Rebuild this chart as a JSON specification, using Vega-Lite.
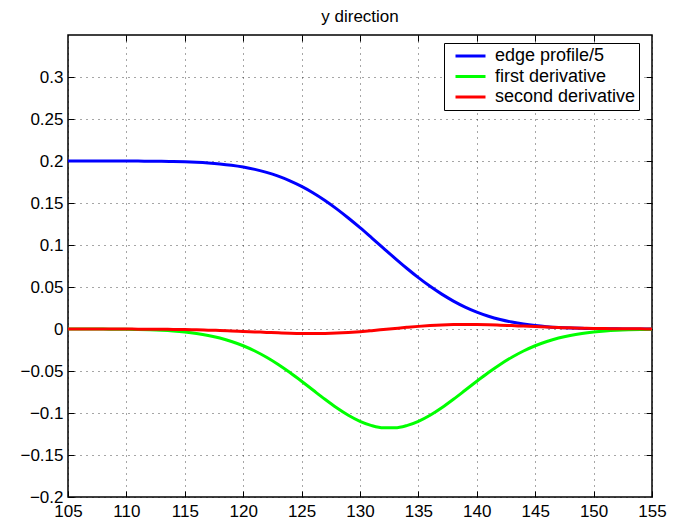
{
  "$schema": "https://vega.github.io/schema/vega-lite/v6.json",
  "autosize": {"type": "none"},
  "width": 584,
  "height": 462,
  "padding": {"left": 68, "top": 35, "right": 31, "bottom": 27},
  "background": "white",
  "title": {"text": "y direction", "fontSize": 17, "fontWeight": "normal", "font": "Liberation Sans", "color": "#000", "offset": 9},
  "config": {
    "view": {"stroke": "#000", "strokeWidth": 1.5},
    "font": "Liberation Sans",
    "axis": {
      "domain": false,
      "tickColor": "#000",
      "tickSize": -6,
      "labelFontSize": 17,
      "labelColor": "#000",
      "labelFont": "Liberation Sans",
      "gridColor": "#000",
      "gridOpacity": 0.7,
      "gridDash": [1, 5],
      "gridWidth": 1,
      "title": null
    },
    "legend": {
      "orient": "none",
      "legendX": 376,
      "legendY": 8,
      "strokeColor": "#000",
      "fillColor": "#fff",
      "padding": 3,
      "symbolType": "stroke",
      "symbolSize": 900,
      "symbolStrokeWidth": 3,
      "symbolOffset": 7,
      "clipHeight": 20,
      "rowPadding": 0.5,
      "labelOffset": 8,
      "labelFontSize": 18,
      "labelColor": "#000",
      "labelFont": "Liberation Sans",
      "labelLimit": 400
    }
  },
  "data": {
    "values": [
      {"x": 105, "edge profile/5": 0.2, "first derivative": -0.00002, "second derivative": -0.00001},
      {"x": 106, "edge profile/5": 0.19999, "first derivative": -0.00004, "second derivative": -0.00001},
      {"x": 107, "edge profile/5": 0.19999, "first derivative": -0.00007, "second derivative": -0.00002},
      {"x": 108, "edge profile/5": 0.19997, "first derivative": -0.00013, "second derivative": -0.00004},
      {"x": 109, "edge profile/5": 0.19995, "first derivative": -0.00022, "second derivative": -0.00006},
      {"x": 110, "edge profile/5": 0.19992, "first derivative": -0.00037, "second derivative": -0.0001},
      {"x": 111, "edge profile/5": 0.19986, "first derivative": -0.00061, "second derivative": -0.00015},
      {"x": 112, "edge profile/5": 0.19976, "first derivative": -0.00099, "second derivative": -0.00023},
      {"x": 113, "edge profile/5": 0.1996, "first derivative": -0.00156, "second derivative": -0.00035},
      {"x": 114, "edge profile/5": 0.19935, "first derivative": -0.0024, "second derivative": -0.00051},
      {"x": 115, "edge profile/5": 0.19898, "first derivative": -0.00362, "second derivative": -0.00072},
      {"x": 116, "edge profile/5": 0.19843, "first derivative": -0.00534, "second derivative": -0.001},
      {"x": 117, "edge profile/5": 0.19763, "first derivative": -0.00767, "second derivative": -0.00135},
      {"x": 118, "edge profile/5": 0.1965, "first derivative": -0.01079, "second derivative": -0.00178},
      {"x": 119, "edge profile/5": 0.19493, "first derivative": -0.01484, "second derivative": -0.00228},
      {"x": 120, "edge profile/5": 0.19281, "first derivative": -0.01995, "second derivative": -0.00284},
      {"x": 121, "edge profile/5": 0.19002, "first derivative": -0.02621, "second derivative": -0.00343},
      {"x": 122, "edge profile/5": 0.18643, "first derivative": -0.03367, "second derivative": -0.00402},
      {"x": 123, "edge profile/5": 0.18191, "first derivative": -0.04226, "second derivative": -0.00457},
      {"x": 124, "edge profile/5": 0.1764, "first derivative": -0.05187, "second derivative": -0.00502},
      {"x": 125, "edge profile/5": 0.16975, "first derivative": -0.06222, "second derivative": -0.00531},
      {"x": 126, "edge profile/5": 0.16195, "first derivative": -0.07297, "second derivative": -0.00539},
      {"x": 127, "edge profile/5": 0.15303, "first derivative": -0.08364, "second derivative": -0.00523},
      {"x": 128, "edge profile/5": 0.14306, "first derivative": -0.09372, "second derivative": -0.0048},
      {"x": 129, "edge profile/5": 0.13219, "first derivative": -0.10265, "second derivative": -0.00409},
      {"x": 130, "edge profile/5": 0.12067, "first derivative": -0.10991, "second derivative": -0.00313},
      {"x": 131, "edge profile/5": 0.1086, "first derivative": -0.11501, "second derivative": -0.00196},
      {"x": 132, "edge profile/5": 0.09633, "first derivative": -0.11767, "second derivative": -0.00067},
      {"x": 133, "edge profile/5": 0.08415, "first derivative": -0.11767, "second derivative": 0.00067},
      {"x": 134, "edge profile/5": 0.07233, "first derivative": -0.11501, "second derivative": 0.00196},
      {"x": 135, "edge profile/5": 0.06115, "first derivative": -0.10991, "second derivative": 0.00313},
      {"x": 136, "edge profile/5": 0.0508, "first derivative": -0.10265, "second derivative": 0.00409},
      {"x": 137, "edge profile/5": 0.04151, "first derivative": -0.09372, "second derivative": 0.0048},
      {"x": 138, "edge profile/5": 0.03325, "first derivative": -0.08364, "second derivative": 0.00523},
      {"x": 139, "edge profile/5": 0.02614, "first derivative": -0.07297, "second derivative": 0.00539},
      {"x": 140, "edge profile/5": 0.02016, "first derivative": -0.06222, "second derivative": 0.00531},
      {"x": 141, "edge profile/5": 0.01524, "first derivative": -0.05187, "second derivative": 0.00502},
      {"x": 142, "edge profile/5": 0.0113, "first derivative": -0.04226, "second derivative": 0.00457},
      {"x": 143, "edge profile/5": 0.00822, "first derivative": -0.03367, "second derivative": 0.00402},
      {"x": 144, "edge profile/5": 0.00585, "first derivative": -0.02621, "second derivative": 0.00343},
      {"x": 145, "edge profile/5": 0.00408, "first derivative": -0.01995, "second derivative": 0.00284},
      {"x": 146, "edge profile/5": 0.00278, "first derivative": -0.01484, "second derivative": 0.00228},
      {"x": 147, "edge profile/5": 0.00186, "first derivative": -0.01079, "second derivative": 0.00178},
      {"x": 148, "edge profile/5": 0.00121, "first derivative": -0.00767, "second derivative": 0.00135},
      {"x": 149, "edge profile/5": 0.00078, "first derivative": -0.00534, "second derivative": 0.001},
      {"x": 150, "edge profile/5": 0.00049, "first derivative": -0.00362, "second derivative": 0.00072},
      {"x": 151, "edge profile/5": 0.0003, "first derivative": -0.0024, "second derivative": 0.00051},
      {"x": 152, "edge profile/5": 0.00018, "first derivative": -0.00156, "second derivative": 0.00035},
      {"x": 153, "edge profile/5": 0.0001, "first derivative": -0.00099, "second derivative": 0.00023},
      {"x": 154, "edge profile/5": 0.00006, "first derivative": -0.00061, "second derivative": 0.00015},
      {"x": 155, "edge profile/5": 0.00003, "first derivative": -0.00037, "second derivative": 0.0001}
    ]
  },
  "transform": [
    {"fold": ["edge profile/5", "first derivative", "second derivative"], "as": ["series", "value"]}
  ],
  "layer": [
    {
      "mark": {"type": "line", "strokeWidth": 3, "interpolate": "monotone", "clip": true},
      "encoding": {
        "x": {
          "field": "x", "type": "quantitative",
          "scale": {"domain": [105, 155], "nice": false, "zero": false},
          "axis": {"orient": "bottom", "values": [105, 110, 115, 120, 125, 130, 135, 140, 145, 150, 155], "format": "d", "labelPadding": 12, "labelFlush": false}
        },
        "y": {
          "field": "value", "type": "quantitative",
          "scale": {"domain": [-0.2, 0.35], "nice": false, "zero": false},
          "axis": {"orient": "left", "values": [-0.2, -0.15, -0.1, -0.05, 0, 0.05, 0.1, 0.15, 0.2, 0.25, 0.3], "format": "~g", "labelPadding": 11, "labelFlush": false}
        },
        "color": {
          "field": "series", "type": "nominal",
          "scale": {"domain": ["edge profile/5", "first derivative", "second derivative"], "range": ["#0000ff", "#00ff00", "#ff0000"]},
          "legend": {"title": null, "labelExpr": "datum.label + '  '"}
        },
        "detail": {"field": "series"}
      }
    },
    {
      "mark": {"type": "line", "opacity": 0},
      "encoding": {
        "x": {
          "field": "x", "type": "quantitative",
          "axis": {"orient": "top", "values": [110, 115, 120, 125, 130, 135, 140, 145, 150], "labels": false, "grid": false}
        },
        "y": {
          "field": "value", "type": "quantitative",
          "axis": {"orient": "right", "values": [-0.15, -0.1, -0.05, 0, 0.05, 0.1, 0.15, 0.2, 0.25, 0.3], "labels": false, "grid": false}
        },
        "detail": {"field": "series"}
      }
    }
  ],
  "resolve": {"axis": {"x": "independent", "y": "independent"}}
}
